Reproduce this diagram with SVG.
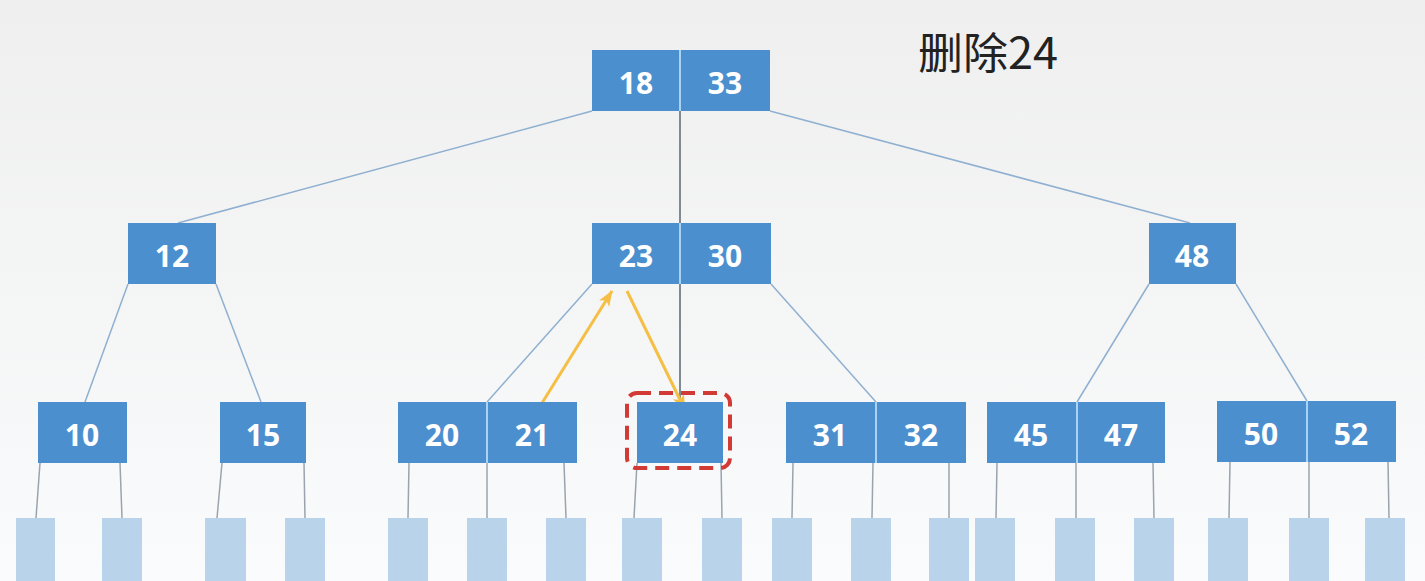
<svg xmlns="http://www.w3.org/2000/svg" width="1425" height="581" viewBox="0 0 1425 581">
<defs>
<linearGradient id="bg" x1="0" y1="0" x2="0" y2="1">
<stop offset="0" stop-color="#efefef"/>
<stop offset="1" stop-color="#fafbfc"/>
</linearGradient>
<marker id="ah" viewBox="0 0 16 12" refX="15" refY="6" markerWidth="16" markerHeight="12" markerUnits="userSpaceOnUse" orient="auto">
<path d="M0,0 L16,6 L0,12 L4,6 Z" fill="#f5bf45"/>
</marker>
<style>
.k{fill:#4b8fcf}
.d{stroke:#a9d3f5;stroke-width:2}
.t{fill:#ffffff;font-family:"Open Sans","DejaVu Sans",sans-serif;font-weight:bold;font-size:30px;text-anchor:middle}
.lf{fill:#b8d3ea}
.c{stroke:#8fb0d0;stroke-width:1.5;fill:none}
.v{stroke:#5a6470;stroke-width:1.5;fill:none}
.g{stroke:#9aa4ae;stroke-width:1.5;fill:none}
.y{stroke:#f5bf45;stroke-width:3;fill:none}
</style>
</defs>
<rect width="1425" height="581" fill="url(#bg)"/>
<text x="918" y="69" font-family="'Noto Sans CJK SC','Noto Sans',sans-serif" font-size="43" textLength="140" lengthAdjust="spacingAndGlyphs" fill="#222">删除24</text>

<g id="connectors">
<line class="c" x1="592" y1="111" x2="178" y2="223"/>
<line class="v" x1="680" y1="111" x2="680" y2="223"/>
<line class="c" x1="770" y1="111" x2="1190" y2="223"/>
<line class="c" x1="128" y1="284" x2="85" y2="402"/>
<line class="c" x1="216" y1="284" x2="261" y2="402"/>
<line class="c" x1="592" y1="284" x2="487" y2="402"/>
<line class="v" x1="680" y1="284" x2="680" y2="402"/>
<line class="c" x1="771" y1="284" x2="876" y2="402"/>
<line class="c" x1="1149" y1="284" x2="1077" y2="402"/>
<line class="c" x1="1236" y1="284" x2="1307" y2="401"/>
<line class="g" x1="40" y1="463" x2="36" y2="518"/>
<line class="g" x1="120" y1="463" x2="122" y2="518"/>
<line class="g" x1="222" y1="463" x2="217" y2="518"/>
<line class="g" x1="304" y1="463" x2="305" y2="518"/>
<line class="g" x1="409" y1="463" x2="408" y2="518"/>
<line class="g" x1="487" y1="463" x2="487" y2="518"/>
<line class="g" x1="564" y1="463" x2="566" y2="518"/>
<line class="g" x1="637" y1="463" x2="634" y2="518"/>
<line class="g" x1="721" y1="463" x2="722" y2="518"/>
<line class="g" x1="793" y1="463" x2="792" y2="518"/>
<line class="g" x1="873" y1="463" x2="872" y2="518"/>
<line class="g" x1="949" y1="463" x2="949" y2="518"/>
<line class="g" x1="997" y1="463" x2="996" y2="518"/>
<line class="g" x1="1076" y1="463" x2="1076" y2="518"/>
<line class="g" x1="1153" y1="463" x2="1154" y2="518"/>
<line class="g" x1="1230" y1="462" x2="1229" y2="518"/>
<line class="g" x1="1309" y1="462" x2="1309" y2="518"/>
<line class="g" x1="1388" y1="462" x2="1389" y2="518"/>
<line class="y" x1="542" y1="403" x2="612" y2="291" marker-end="url(#ah)"/>
<line class="y" x1="627" y1="291" x2="685" y2="410" marker-end="url(#ah)"/>
</g>

<g id="n18_33"><rect class="k" x="592" y="50" width="178" height="61"/><line class="d" x1="680" y1="50" x2="680" y2="111"/><text class="t" x="636" y="94">18</text><text class="t" x="725" y="94">33</text></g>
<g id="n12"><rect class="k" x="128" y="223" width="88" height="61"/><text class="t" x="172" y="267">12</text></g>
<g id="n23_30"><rect class="k" x="592" y="223" width="179" height="61"/><line class="d" x1="680" y1="223" x2="680" y2="284"/><text class="t" x="636" y="267">23</text><text class="t" x="725" y="267">30</text></g>
<g id="n48"><rect class="k" x="1149" y="223" width="87" height="61"/><text class="t" x="1192" y="267">48</text></g>

<g id="n10"><rect class="k" x="38" y="402" width="89" height="61"/><text class="t" x="82" y="446">10</text></g>
<g id="n15"><rect class="k" x="220" y="402" width="86" height="61"/><text class="t" x="263" y="446">15</text></g>
<g id="n20_21"><rect class="k" x="398" y="402" width="179" height="61"/><line class="d" x1="487" y1="402" x2="487" y2="463"/><text class="t" x="442" y="446">20</text><text class="t" x="532" y="446">21</text></g>
<g id="n24"><rect class="k" x="637" y="402" width="86" height="61"/><text class="t" x="680" y="446">24</text>
<rect x="627" y="393" width="103" height="75" rx="10" fill="none" stroke="#d23a36" stroke-width="4" stroke-dasharray="14 8"/></g>
<g id="n31_32"><rect class="k" x="786" y="402" width="180" height="61"/><line class="d" x1="876" y1="402" x2="876" y2="463"/><text class="t" x="830" y="446">31</text><text class="t" x="921" y="446">32</text></g>
<g id="n45_47"><rect class="k" x="987" y="402" width="178" height="61"/><line class="d" x1="1077" y1="402" x2="1077" y2="463"/><text class="t" x="1031" y="446">45</text><text class="t" x="1121" y="446">47</text></g>
<g id="n50_52"><rect class="k" x="1217" y="401" width="179" height="61"/><line class="d" x1="1307" y1="401" x2="1307" y2="462"/><text class="t" x="1261" y="445">50</text><text class="t" x="1351" y="445">52</text></g>

<g id="leaves">
<rect class="lf" x="16" y="518" width="39" height="63"/>
<rect class="lf" x="102" y="518" width="40" height="63"/>
<rect class="lf" x="205" y="518" width="41" height="63"/>
<rect class="lf" x="285" y="518" width="40" height="63"/>
<rect class="lf" x="388" y="518" width="40" height="63"/>
<rect class="lf" x="467" y="518" width="40" height="63"/>
<rect class="lf" x="546" y="518" width="40" height="63"/>
<rect class="lf" x="622" y="518" width="40" height="63"/>
<rect class="lf" x="702" y="518" width="40" height="63"/>
<rect class="lf" x="772" y="518" width="40" height="63"/>
<rect class="lf" x="851" y="518" width="40" height="63"/>
<rect class="lf" x="929" y="518" width="40" height="63"/>
<rect class="lf" x="975" y="518" width="40" height="63"/>
<rect class="lf" x="1055" y="518" width="40" height="63"/>
<rect class="lf" x="1134" y="518" width="40" height="63"/>
<rect class="lf" x="1208" y="518" width="40" height="63"/>
<rect class="lf" x="1289" y="518" width="40" height="63"/>
<rect class="lf" x="1365" y="518" width="40" height="63"/>
</g>
</svg>
